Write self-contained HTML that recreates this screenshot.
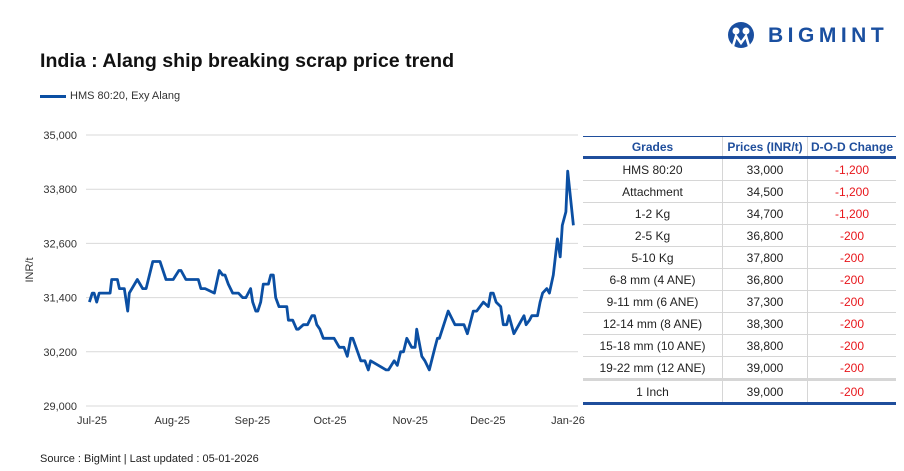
<!DOCTYPE html>
<html><head><meta charset="utf-8">
<style>
body{margin:0;background:#fff;font-family:"Liberation Sans",sans-serif;}
#wrap{position:relative;width:904px;height:471px;overflow:hidden;}
.abs{position:absolute;}
table{border-collapse:collapse;font-size:12px;color:#222;}
td,th{text-align:center;padding:0;}
td{height:21px;}
th{height:19px;color:#1f4e9c;font-weight:bold;font-size:12px;border-bottom:3px solid #1f4e9c;}
td{border-bottom:1px solid #d6d6d6;}
td+td,th+th{border-left:1px solid #d6d6d6;}
.neg{color:#e8161b;}
</style></head><body>
<div id="wrap">
<div class="abs" style="left:40px;top:50px;font-size:19.6px;font-weight:bold;color:#111;">India : Alang ship breaking scrap price trend</div>
<div class="abs" style="left:727px;top:21px;width:170px;height:30px;">
<svg width="32" height="30"><circle cx="14" cy="14" r="13" fill="#1a4fa0"/><circle cx="9" cy="10" r="3.5" fill="#fff"/><circle cx="19" cy="10" r="3.5" fill="#fff"/><path d="M6 25 L9 15 L14 22 L19 15 L22 25" stroke="#fff" stroke-width="2.5" fill="none"/></svg>
<span class="abs" style="left:41px;top:3px;font-size:21px;font-weight:bold;color:#1a4fa0;letter-spacing:4.5px;">BIGMINT</span>
</div>
<div class="abs" style="left:40px;top:90px;font-size:11px;color:#333;">
<span style="display:inline-block;width:26px;height:3px;background:#0b4fa3;vertical-align:middle;margin-right:4px;"></span>HMS 80:20, Exy Alang</div>
<svg id="chart" class="abs" style="left:0;top:0" width="904" height="471"></svg>
<div class="abs" style="left:40px;top:453px;font-size:11px;color:#222;">Source : BigMint | Last updated : 05-01-2026</div>
<div class="abs" style="left:583px;top:136px;width:313px;border-top:1px solid #1f4e9c;">
<table style="width:313px;border-bottom:3px solid #1f4e9c;">
<tr><th style="width:139px">Grades</th><th style="width:84px">Prices (INR/t)</th><th>D-O-D Change</th></tr>
<tr><td>HMS 80:20</td><td>33,000</td><td class="neg">-1,200</td></tr>
<tr><td>Attachment</td><td>34,500</td><td class="neg">-1,200</td></tr>
<tr><td>1-2 Kg</td><td>34,700</td><td class="neg">-1,200</td></tr>
<tr><td>2-5 Kg</td><td>36,800</td><td class="neg">-200</td></tr>
<tr><td>5-10 Kg</td><td>37,800</td><td class="neg">-200</td></tr>
<tr><td>6-8 mm (4 ANE)</td><td>36,800</td><td class="neg">-200</td></tr>
<tr><td>9-11 mm (6 ANE)</td><td>37,300</td><td class="neg">-200</td></tr>
<tr><td>12-14 mm (8 ANE)</td><td>38,300</td><td class="neg">-200</td></tr>
<tr><td>15-18 mm (10 ANE)</td><td>38,800</td><td class="neg">-200</td></tr>
<tr><td style="border-bottom:3px solid #d6d6d6">19-22 mm (12 ANE)</td><td style="border-bottom:3px solid #d6d6d6">39,000</td><td class="neg" style="border-bottom:3px solid #d6d6d6">-200</td></tr>
<tr><td style="border-bottom:none">1 Inch</td><td style="border-bottom:none">39,000</td><td class="neg" style="border-bottom:none">-200</td></tr>
</table></div>
</div>
<script>
const yTicks=[29000,30200,31400,32600,33800,35000];
const monthLabels=["Jul-25","Aug-25","Sep-25","Oct-25","Nov-25","Dec-25","Jan-26"];
const monthDays=[0,31,62,92,123,153,184];
const days=[-1,0.1,0.8,1.8,2.8,7,7.6,9.8,10.6,12.5,13.8,14.4,17.5,19.6,20.9,23.5,26.3,28.6,31.4,33.6,34.4,36.3,41.1,42.1,43.7,47.3,49.2,50.5,51.4,52.7,54.4,56.6,58.2,59.5,61.3,62.1,63.3,64.1,65.2,66.2,68.2,69.1,70.1,71,72.3,75.3,75.9,77.6,79.1,79.8,81.7,83.3,85,86,86.9,88.1,89.4,93.6,95.6,97.4,98.7,100,100.8,103.9,105.5,106.8,107.7,113.7,114.6,116.8,118,119.3,120.4,121.7,123.6,124.9,125.5,127.5,128.7,130.4,132.6,133.5,134.3,137.7,140.3,143.8,145.1,147.4,148.7,151.3,153.2,154.1,155.1,156.2,158,159,160.3,161.2,163.1,167,167.8,169.1,170,172.2,173.2,174.2,175.8,176.8,178.3,179.9,181,181.8,183.2,183.9,186.1];
const prices=[31300,31500,31500,31300,31500,31500,31800,31800,31600,31600,31100,31500,31800,31600,31600,32200,32200,31800,31800,32000,32000,31800,31800,31600,31600,31500,32000,31900,31900,31700,31500,31500,31400,31400,31600,31300,31100,31100,31300,31700,31700,31900,31900,31400,31200,31200,30900,30900,30700,30700,30800,30800,31000,31000,30800,30700,30500,30500,30300,30300,30100,30500,30500,30000,30000,29800,30000,29800,29800,30000,29900,30200,30200,30500,30300,30300,30700,30100,30000,29800,30300,30500,30500,31100,30800,30800,30600,31100,31100,31300,31200,31500,31500,31300,31200,30800,30800,31000,30600,31000,30800,30900,31000,31000,31300,31500,31600,31500,31900,32700,32300,33000,33300,34200,33000];
const NS="http://www.w3.org/2000/svg";
const svg=document.getElementById('chart');
const x0=92,x1=568,yTop=135,yBot=406,vMin=29000,vMax=35000;
const xs=d=>x0+(d-0)/(184)*(x1-x0);
const ys=v=>yBot-(v-vMin)/(vMax-vMin)*(yBot-yTop);
function mk(t,a){const e=document.createElementNS(NS,t);for(const k in a)e.setAttribute(k,a[k]);svg.appendChild(e);return e;}
yTicks.forEach((v,i)=>{
 const g=mk('line',{x1:86,x2:578,y1:ys(v),y2:ys(v),stroke:'#d9d9d9','stroke-width':1});
 
 
 const t=mk('text',{x:77,y:ys(v)+4,'text-anchor':'end','font-size':11,fill:'#333','font-family':'Liberation Sans, sans-serif'});
 t.textContent=v.toLocaleString('en-US');
 
 
});
monthLabels.forEach((m,i)=>{
 const t=mk('text',{x:xs(monthDays[i]),y:424,'text-anchor':'middle','font-size':11,fill:'#333','font-family':'Liberation Sans, sans-serif'});
 t.textContent=m;
 
 
});
const yt=mk('text',{x:33,y:270,'text-anchor':'middle','font-size':11,fill:'#333',transform:'rotate(-90 33 270)','font-family':'Liberation Sans, sans-serif'});
yt.textContent='INR/t';


const pts=days.map((d,i)=>xs(d).toFixed(1)+','+ys(prices[i]).toFixed(1)).join(' ');
const pl=mk('polyline',{points:pts,fill:'none',stroke:'#0b4fa3','stroke-width':2.8,'stroke-linejoin':'round'});


</script>
</body></html>
